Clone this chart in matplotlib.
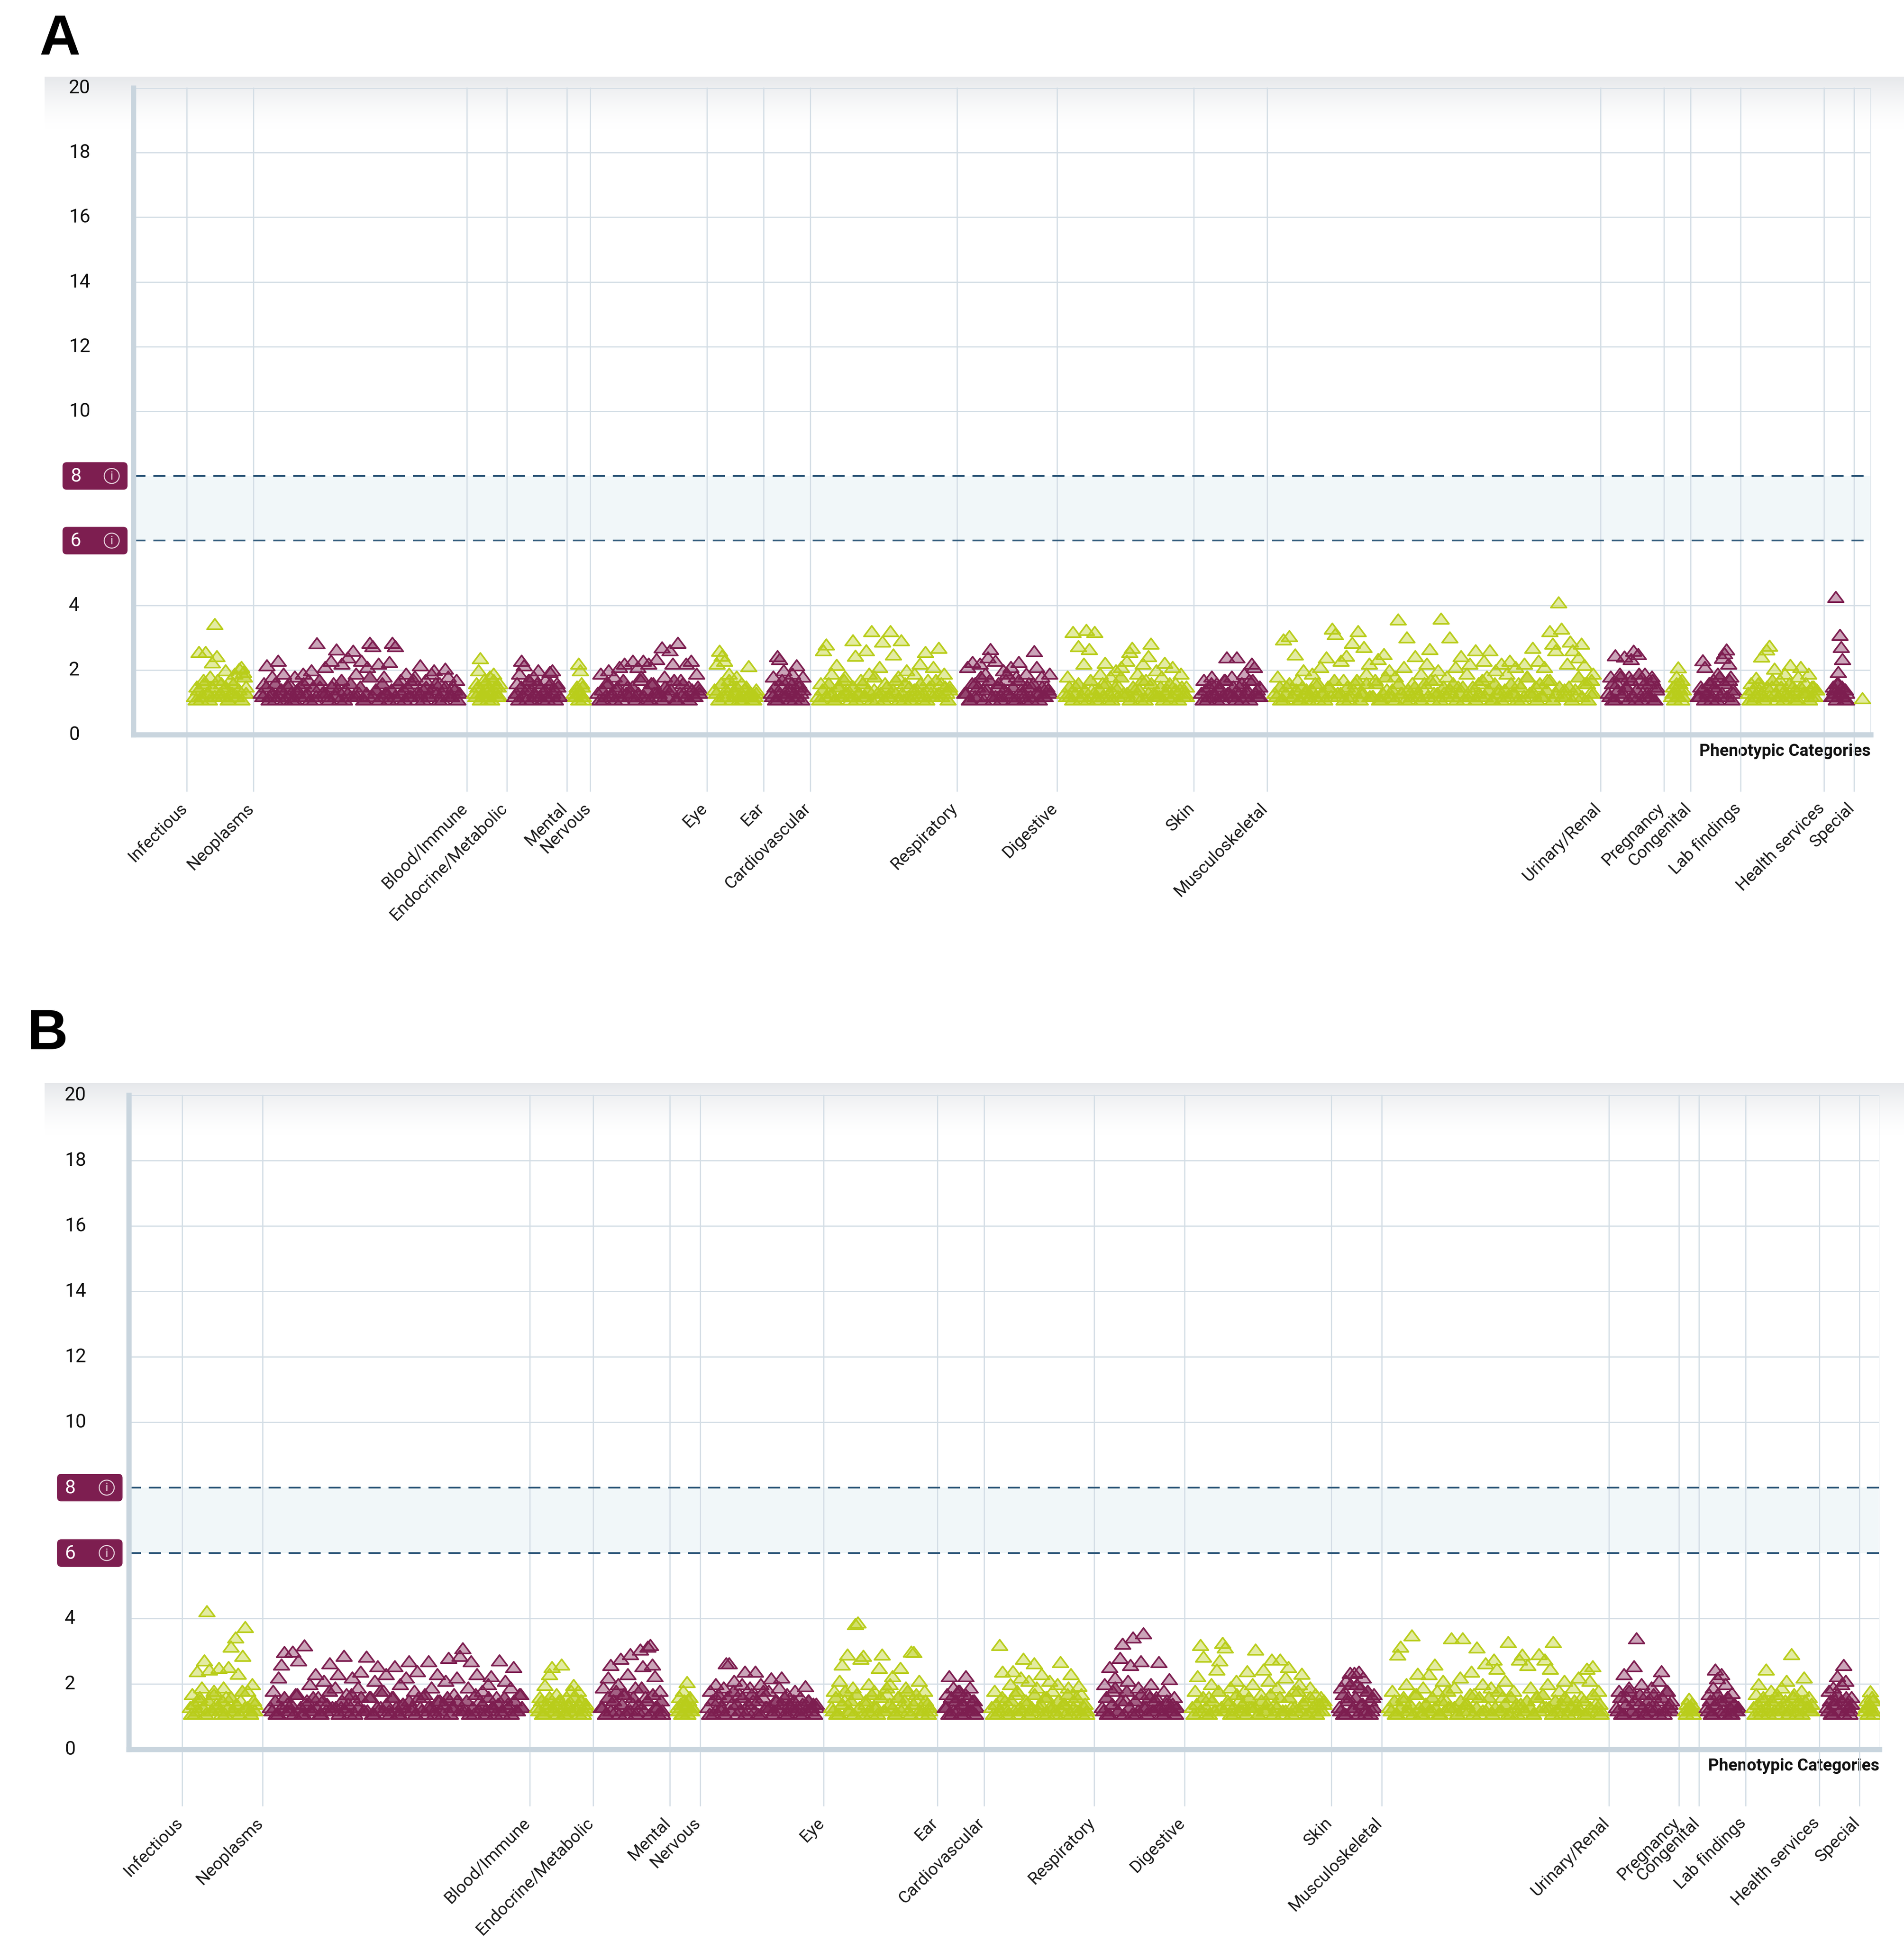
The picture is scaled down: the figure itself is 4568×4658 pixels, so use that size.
import numpy as np
import matplotlib
matplotlib.use("Agg")
import matplotlib.pyplot as plt
from matplotlib.path import Path
from matplotlib.patches import FancyBboxPatch, Circle
import matplotlib.transforms as mtransforms
from matplotlib.colors import to_rgba

plt.rcParams['font.family'] = ['Roboto', 'DejaVu Sans']

W, H, DPI = 4568, 4658, 100

# ---------------- data ----------------
categories = ["Infectious", "Neoplasms", "Blood/Immune", "Endocrine/Metabolic", "Mental",
              "Nervous", "Eye", "Ear", "Cardiovascular", "Respiratory", "Digestive", "Skin",
              "Musculoskeletal", "Urinary/Renal", "Pregnancy", "Congenital", "Lab findings",
              "Health services", "Special"]

# number of phenotypes per category (sets category widths)
sizes_A = [20, 64, 12, 18, 7, 35, 17, 14, 44, 30, 41, 22, 100, 19, 8, 15, 25, 9, 5]
sizes_B = [24, 80, 19, 23, 9, 37, 34, 14, 33, 27, 44, 15, 68, 21, 6, 14, 22, 12, 6]

y_ticks = [0, 2, 4, 10, 12, 14, 16, 18, 20]
grid_y = [2, 4, 10, 12, 14, 16, 18, 20]
thresholds = [8, 6]
x_title = "Phenotypic Categories"
panel_labels = ["A", "B"]

# -log10(p) of the more prominent results per category, panel A
a_inf = [1.2, 1.5, 2.56, 1.1, 1.7, 2.56, 1.3, 1.8, 2.24, 3.43, 2.43, 1.2, 1.6, 1.4, 2.0, 1.1,
         1.7, 1.3, 1.9, 1.2, 2.05, 2.1, 1.95, 1.5]
a_neo = [1.3, 1.6, 2.15, 1.2, 1.8, 1.1, 2.3, 1.4, 1.9, 1.2, 1.6, 1.1, 1.8, 1.3, 1.5, 1.9, 1.2,
         1.7, 2.0, 1.1, 2.84, 1.5, 1.3, 2.1, 1.2, 2.3, 1.6, 2.64, 1.1, 2.2, 1.4, 2.4, 1.2, 2.6,
         1.9, 1.3, 2.3, 1.1, 2.1, 2.85, 2.75, 1.4, 2.2, 1.2, 1.8, 1.3, 2.25, 2.85, 2.75, 1.1,
         1.7, 1.4, 1.9, 1.2, 1.6, 1.8, 1.1, 2.15, 1.4, 1.7, 1.2, 1.9, 2.0, 1.3, 1.6, 1.1, 2.05,
         1.8, 1.2, 1.5, 1.7, 1.3]
a_blo = [1.3, 1.6, 2.0, 2.37, 1.2, 1.7, 1.4, 1.1, 1.8, 1.3, 1.9, 1.5, 1.2, 1.6]
a_end = [1.2, 1.6, 1.9, 2.3, 2.15, 1.1, 1.7, 1.4, 1.8, 1.2, 2.0, 1.5, 1.3, 1.7, 1.1, 1.95, 2.0,
         1.4, 1.6, 1.2]
a_men = [1.3, 1.2, 1.5, 2.2, 2.0, 1.6, 1.1]
a_ner = [1.3, 1.9, 1.1, 1.6, 2.0, 1.2, 1.8, 1.4, 2.1, 1.1, 2.2, 1.5, 1.3, 2.3, 1.2, 2.1, 1.7,
         2.3, 1.1, 2.2, 1.6, 1.3, 2.35, 1.2, 2.7, 1.8, 1.4, 2.62, 2.2, 1.1, 2.85, 1.7, 1.3,
         2.2, 1.5, 2.3, 1.2, 1.9, 1.4]
a_eye = [1.4, 2.2, 2.6, 2.45, 2.3, 1.2, 1.9, 1.5, 1.3, 1.8, 1.1, 1.6, 1.2, 1.5, 2.13, 1.3, 1.1, 1.4]
a_ear = [1.3, 1.8, 1.1, 2.43, 2.35, 1.5, 2.0, 1.2, 1.7, 1.4, 1.9, 1.1, 2.15, 1.6, 1.3, 1.8]
a_car = [1.2, 1.6, 2.62, 2.8, 1.3, 1.9, 1.1, 2.16, 1.5, 1.2, 1.8, 1.4, 1.1, 2.92, 2.45, 1.3,
         1.7, 1.2, 2.62, 1.9, 3.21, 1.4, 1.1, 2.1, 2.89, 1.6, 1.2, 3.21, 2.49, 1.3, 1.8, 2.92,
         1.1, 2.0, 1.5, 1.2, 1.9, 1.4, 2.2, 1.1, 2.56, 1.7, 1.3, 2.1, 1.2, 2.69, 1.6, 1.9, 1.3, 1.5]
a_res = [1.3, 2.1, 1.1, 2.25, 1.6, 1.2, 2.2, 1.4, 1.9, 2.4, 2.65, 1.1, 2.3, 1.5, 1.2, 2.0, 1.7,
         1.3, 2.1, 1.1, 1.8, 2.26, 1.4, 1.2, 1.9, 1.6, 1.1, 2.59, 2.1, 1.3, 1.8, 1.2, 1.5, 1.9]
a_dig = [1.3, 1.8, 1.2, 3.18, 1.5, 2.75, 1.1, 2.2, 3.25, 2.65, 1.4, 3.18, 1.2, 1.9, 1.6, 2.23,
         1.1, 1.8, 1.3, 2.0, 1.5, 2.1, 1.2, 2.3, 2.56, 2.69, 1.4, 1.9, 1.1, 2.2, 1.7, 2.43, 2.82,
         1.3, 2.0, 1.2, 1.8, 2.23, 1.4, 1.1, 2.1, 1.6, 1.3, 1.9, 1.2, 1.5]
a_ski = [1.3, 1.7, 1.1, 1.5, 1.8, 1.2, 1.6, 1.4, 1.1, 1.7, 2.4, 1.3, 1.8, 1.2, 2.4, 1.5, 1.1,
         1.9, 1.3, 1.7, 2.2, 2.1, 1.4, 1.2]
a_mus = [1.3, 1.8, 1.1, 2.95, 1.5, 3.05, 1.2, 2.49, 1.7, 1.1,
         2.0, 1.4, 1.2, 1.9, 1.6, 1.1, 2.1, 1.3, 2.4, 1.5,
         3.28, 3.12, 1.2, 2.3, 1.7, 2.45, 1.1, 2.85, 1.6, 3.21,
         1.3, 2.72, 1.9, 2.2, 1.2, 1.7, 2.35, 1.1, 2.5, 1.4,
         2.0, 1.2, 1.8, 3.57, 1.3, 2.1, 3.02, 1.1, 1.6, 2.43,
         1.2, 1.9, 1.4, 2.2, 2.66, 1.1, 1.7, 2.0, 3.6, 1.3,
         1.8, 3.02, 1.2, 2.1, 1.5, 2.43, 1.1, 1.9, 2.2, 1.3,
         2.62, 1.6, 1.2, 2.3, 1.8, 2.62, 1.1, 2.0, 1.4, 2.2,
         1.2, 1.9, 2.3, 1.3, 2.1, 1.6, 1.1, 2.2, 1.8, 1.3,
         2.69, 1.5, 2.3, 1.2, 2.1, 1.7, 3.21, 2.82, 2.62, 4.1,
         3.28, 1.4, 2.2, 2.89, 2.62, 1.2, 2.4, 2.82, 2.16, 1.6,
         1.3, 1.9]
a_uri = [1.3, 1.8, 1.1, 2.46, 1.6, 1.9, 1.2, 2.42, 1.5, 1.8, 2.35, 2.6, 1.1, 2.5, 1.7, 1.3,
         1.9, 1.2, 1.6, 1.8, 1.1, 1.5]
a_pre = [1.2, 1.5, 1.3, 1.8, 2.09, 1.6, 1.1, 1.4]
a_con = [1.2, 1.5, 2.31, 2.1, 1.3, 1.6, 1.1, 1.7, 1.4, 1.9, 1.2, 2.39, 2.53, 2.64, 2.2, 1.8, 1.3]
a_lab = [1.3, 1.6, 1.1, 1.76, 1.4, 2.42, 1.2, 2.64, 2.76, 1.5, 2.05, 1.1, 1.7, 1.3, 1.9, 1.2,
         2.16, 1.5, 1.1, 1.8, 2.1, 1.3, 1.6, 1.9, 1.2, 1.5, 1.4]
a_hea = [1.2, 1.5, 1.3, 4.27, 1.6, 1.94, 3.09, 2.72, 2.35, 1.4, 1.1, 1.3]
a_spe = [1.13]

# the dense bulk of weaker results per category, panel A
ab_inf = [1.1, 1.4, 1.2, 1.6, 1.3, 1.1, 1.5, 1.2, 1.7, 1.3, 1.2, 1.5, 1.1, 1.3, 1.6, 1.2, 1.4,
          1.1, 1.8, 1.3]
ab_neo = [1.2, 1.5, 1.1, 1.3, 1.6, 1.2, 1.4, 1.1, 1.5, 1.3,
          1.1, 1.4, 1.2, 1.6, 1.3, 1.1, 1.5, 1.2, 1.7, 1.3,
          1.3, 1.1, 1.5, 1.2, 1.4, 1.7, 1.1, 1.3, 1.6, 1.2,
          1.2, 1.5, 1.1, 1.3, 1.8, 1.2, 1.4, 1.1, 1.6, 1.3,
          1.1, 1.4, 1.2, 1.6, 1.3, 1.1, 1.5, 1.2, 1.7, 1.3,
          1.3, 1.1, 1.5, 1.2, 1.4, 1.6, 1.1, 1.3, 1.5, 1.2,
          1.2, 1.4, 1.1, 1.3]
ab_blo = [1.2, 1.5, 1.1, 1.3, 1.6, 1.2, 1.4, 1.1, 1.7, 1.3, 1.5, 1.2]
ab_end = [1.3, 1.1, 1.5, 1.2, 1.4, 1.7, 1.1, 1.3, 1.6, 1.2, 1.1, 1.4, 1.2, 1.6, 1.3, 1.1, 1.5, 1.2]
ab_men = [1.2, 1.4, 1.1, 1.3, 1.5, 1.2]
ab_ner = [1.1, 1.4, 1.2, 1.6, 1.3, 1.1, 1.5, 1.2, 1.7, 1.3, 1.2, 1.5, 1.1, 1.3, 1.8, 1.2, 1.4,
          1.1, 1.6, 1.3, 1.3, 1.1, 1.5, 1.2, 1.4, 1.7, 1.1, 1.3, 1.6, 1.2, 1.1, 1.4, 1.2, 1.5, 1.3]
ab_eye = [1.3, 1.1, 1.6, 1.2, 1.4, 1.7, 1.1, 1.3, 1.5, 1.2, 1.1, 1.4, 1.2, 1.3, 1.1, 1.2, 1.3]
ab_ear = [1.2, 1.5, 1.1, 1.3, 1.7, 1.2, 1.4, 1.1, 1.6, 1.3, 1.2, 1.5, 1.1, 1.4]
ab_car = [1.1, 1.4, 1.2, 1.6, 1.3, 1.1, 1.5, 1.2, 1.7, 1.3, 1.2, 1.5, 1.1, 1.3, 1.6, 1.2, 1.4,
          1.1, 1.8, 1.3, 1.3, 1.1, 1.5, 1.2, 1.4, 1.7, 1.1, 1.3, 1.6, 1.2, 1.1, 1.4, 1.2, 1.6,
          1.3, 1.1, 1.5, 1.2, 1.7, 1.3, 1.2, 1.5, 1.1, 1.4]
ab_res = [1.3, 1.1, 1.6, 1.2, 1.5, 1.8, 1.1, 1.4, 1.7, 1.2, 1.2, 1.6, 1.1, 1.4, 1.9, 1.2, 1.5,
          1.1, 1.7, 1.3, 1.1, 1.5, 1.2, 1.6, 1.3, 1.1, 1.5, 1.2, 1.4, 1.3]
ab_dig = [1.2, 1.5, 1.1, 1.3, 1.6, 1.2, 1.4, 1.1, 1.7, 1.3, 1.1, 1.4, 1.2, 1.6, 1.3, 1.1, 1.5,
          1.2, 1.8, 1.3, 1.3, 1.1, 1.5, 1.2, 1.4, 1.7, 1.1, 1.3, 1.6, 1.2, 1.2, 1.5, 1.1, 1.3,
          1.6, 1.2, 1.4, 1.1, 1.5, 1.3, 1.2]
ab_ski = [1.1, 1.4, 1.2, 1.6, 1.3, 1.1, 1.5, 1.2, 1.7, 1.3, 1.2, 1.5, 1.1, 1.3, 1.6, 1.2, 1.4,
          1.1, 1.7, 1.3, 1.2, 1.5]
ab_mus = [1.2, 1.5, 1.1, 1.3, 1.6, 1.2, 1.4, 1.1, 1.5, 1.3,
          1.1, 1.4, 1.2, 1.6, 1.3, 1.1, 1.5, 1.2, 1.7, 1.3,
          1.3, 1.1, 1.5, 1.2, 1.4, 1.7, 1.1, 1.3, 1.6, 1.2,
          1.2, 1.6, 1.1, 1.3, 1.8, 1.2, 1.4, 1.1, 1.6, 1.3,
          1.1, 1.4, 1.2, 1.5, 1.3, 1.1, 1.6, 1.2, 1.7, 1.3,
          1.3, 1.1, 1.5, 1.2, 1.4, 1.6, 1.1, 1.3, 1.5, 1.2,
          1.2, 1.5, 1.1, 1.3, 1.7, 1.2, 1.4, 1.1, 1.6, 1.3,
          1.1, 1.4, 1.2, 1.6, 1.3, 1.1, 1.5, 1.2, 1.8, 1.3,
          1.3, 1.1, 1.6, 1.2, 1.4, 1.7, 1.1, 1.3, 1.5, 1.2,
          1.2, 1.5, 1.1, 1.4, 1.8, 1.2, 1.6, 1.1, 1.7, 1.3]
ab_uri = [1.2, 1.6, 1.1, 1.4, 1.8, 1.3, 1.5, 1.1, 1.7, 1.2, 1.4, 1.9, 1.1, 1.6, 1.3, 1.2, 1.7,
          1.1, 1.4]
ab_pre = [1.3, 1.1, 1.6, 1.2, 1.4, 1.7, 1.2]
ab_con = [1.2, 1.4, 1.1, 1.3, 1.6, 1.2, 1.5, 1.1, 1.8, 1.3, 1.6, 1.2, 1.7, 1.1, 1.4]
ab_lab = [1.1, 1.4, 1.2, 1.6, 1.3, 1.1, 1.5, 1.2, 1.7, 1.3, 1.2, 1.5, 1.1, 1.3, 1.6, 1.2, 1.4,
          1.1, 1.5, 1.3, 1.3, 1.1, 1.5, 1.2, 1.4]
ab_hea = [1.2, 1.4, 1.1, 1.6, 1.3, 1.5, 1.2, 1.4, 1.1]
ab_spe = []

# -log10(p) of the more prominent results per category, panel B
b_inf = [1.3, 1.7, 1.1, 2.4, 1.5, 1.9, 2.72, 4.23, 2.44, 1.2, 1.8, 1.4, 2.5, 1.1, 1.9, 1.6,
         2.52, 3.15, 1.2, 3.43, 2.32, 1.5, 2.86, 3.74, 1.8, 1.2, 2.0, 1.4]
b_neo = [1.3, 1.8, 1.1, 2.2, 2.6, 2.98, 1.4, 1.2, 3.0, 1.7,
         2.72, 1.1, 3.18, 1.5, 2.0, 1.2, 2.3, 1.6, 1.1, 2.1,
         1.4, 2.64, 1.2, 1.9, 2.3, 1.3, 2.86, 1.7, 1.1, 2.2,
         1.5, 1.9, 2.38, 1.2, 2.84, 1.6, 1.1, 2.1, 2.55, 1.3,
         1.8, 2.3, 1.2, 1.6, 2.55, 1.1, 2.0, 1.4, 2.2, 2.7,
         1.2, 1.8, 2.4, 1.3, 1.6, 1.1, 2.7, 1.9, 1.2, 2.3,
         1.5, 1.1, 2.1, 2.8, 1.3, 1.7, 2.2, 2.86, 3.09, 1.2,
         1.9, 2.7, 1.1, 2.3, 1.5, 1.8, 1.2, 2.0, 2.24, 1.3,
         1.6, 2.72, 1.1, 2.1, 1.4, 1.9, 2.52, 1.2, 1.7, 1.3]
b_blo = [1.3, 1.6, 1.1, 1.98, 1.4, 2.3, 2.52, 1.2, 1.7, 1.5, 2.6, 1.1, 1.6, 1.3, 1.8, 1.98,
         1.2, 1.8, 1.5, 1.1, 1.4]
b_end = [1.3, 1.9, 1.1, 2.2, 2.58, 1.5, 1.2, 2.0, 2.78, 1.7, 1.1, 2.3, 2.92, 1.4, 1.9, 1.2,
         3.06, 2.55, 1.6, 3.15, 3.2, 2.6, 2.24, 1.3, 1.8, 1.1]
b_men = [1.3, 1.6, 1.1, 1.8, 1.4, 2.07, 1.5, 1.2, 1.3]
b_ner = [1.3, 1.8, 1.1, 2.0, 1.5, 1.2, 1.9, 2.64, 2.64, 1.4, 2.1, 1.1, 1.7, 2.0, 2.38, 1.2,
         1.9, 1.5, 2.38, 1.1, 2.0, 1.6, 1.3, 1.8, 2.18, 1.2, 1.5, 1.9, 2.2, 1.1, 1.7, 1.4,
         1.2, 1.8, 1.3, 1.6, 1.1, 1.93, 1.5, 1.2, 1.4, 1.3]
b_eye = [1.3, 1.8, 1.1, 2.1, 2.6, 1.5, 2.9, 1.2, 1.9, 3.83, 3.89, 2.78, 2.86, 1.4, 2.0, 1.1,
         1.8, 1.3, 2.5, 2.9, 1.2, 1.7, 2.0, 2.24, 1.1, 1.6, 2.5, 1.3, 1.9, 1.2, 3.0, 2.98,
         1.5, 2.1, 1.1, 1.8, 1.4, 1.2]
b_ear = [1.3, 1.7, 2.24, 1.1, 1.9, 1.5, 1.2, 1.8, 1.4, 1.1, 2.24, 1.6, 1.9, 1.2, 1.5, 1.3]
b_car = [1.3, 1.8, 1.1, 3.2, 2.38, 1.5, 1.2, 2.0, 2.4, 1.7, 1.1, 2.2, 2.78, 1.4, 2.1, 1.2,
         2.64, 1.9, 1.3, 2.3, 1.6, 1.1, 2.1, 1.8, 1.2, 2.0, 2.67, 1.4, 1.1, 1.9, 2.3, 1.5,
         1.2, 1.95, 1.7, 1.3, 1.1]
b_res = [1.3, 2.0, 1.1, 2.52, 1.8, 2.2, 1.2, 2.8, 3.23, 1.5, 2.1, 2.58, 3.43, 1.1, 1.9, 2.7,
         3.55, 1.3, 1.7, 2.0, 1.2, 1.6, 2.67, 1.1, 1.8, 1.4, 2.15, 1.2, 1.6, 1.3]
b_dig = [1.3, 1.8, 2.24, 3.2, 2.84, 1.1, 1.6, 2.0, 1.2, 2.44,
         2.72, 3.26, 3.12, 1.4, 1.9, 1.1, 2.1, 1.5, 1.2, 1.8,
         2.4, 1.3, 2.0, 3.06, 1.1, 1.7, 2.44, 1.2, 2.1, 2.75,
         1.4, 1.9, 2.75, 1.1, 2.2, 2.52, 1.3, 1.8, 1.2, 2.0,
         2.32, 1.5, 1.1, 1.9, 1.3, 1.7, 1.2, 1.6, 1.4]
b_ski = [1.3, 1.9, 1.1, 2.1, 1.6, 2.35, 1.2, 2.35, 2.0, 2.38, 1.4, 2.2, 1.1, 1.8, 1.5, 1.2, 1.7]
b_mus = [1.3, 1.8, 1.1, 2.9, 3.15, 1.5, 2.0, 1.2, 3.49, 1.7,
         2.32, 1.1, 1.9, 1.4, 2.3, 1.2, 2.6, 1.8, 1.1, 2.1,
         1.5, 1.3, 3.4, 1.9, 1.1, 2.2, 3.4, 1.4, 1.2, 2.38,
         1.7, 3.12, 1.1, 2.0, 2.64, 1.3, 1.9, 2.75, 2.47, 1.2,
         1.6, 2.1, 3.29, 1.1, 1.8, 1.4, 2.75, 2.9, 1.2, 2.58,
         1.9, 1.1, 1.6, 2.92, 1.3, 2.75, 2.0, 2.47, 3.29, 1.2,
         1.8, 1.1, 2.1, 1.5, 1.3, 1.9, 1.2, 2.2, 1.6, 1.1,
         2.47, 2.1, 2.55, 1.4, 1.8, 1.2]
b_uri = [1.3, 1.8, 1.1, 2.3, 1.6, 1.9, 1.2, 2.55, 3.4, 1.4, 2.0, 1.1, 1.7, 1.3, 1.9, 1.2, 1.5,
         2.1, 2.4, 1.1, 1.8, 1.3, 1.5]
b_pre = [1.2, 1.4, 1.56, 1.3, 1.1]
b_con = [1.3, 1.7, 1.1, 1.9, 2.44, 2.18, 1.5, 2.3, 1.2, 2.0, 1.6, 1.1, 1.73, 1.4, 1.2, 1.3]
b_lab = [1.3, 1.7, 2.0, 1.1, 1.5, 2.44, 1.2, 1.8, 1.4, 1.1, 1.6, 1.9, 1.3, 2.1, 1.2, 2.92,
         1.7, 1.1, 1.5, 1.8, 2.2, 1.3, 1.6, 1.2]
b_hea = [1.3, 1.8, 1.1, 1.9, 1.5, 2.24, 1.2, 2.0, 2.58, 2.1, 1.4, 1.1, 1.6]
b_spe = [1.2, 1.5, 1.3, 1.78, 1.6, 1.1]

# the dense bulk of weaker results per category, panel B
bb_inf = [1.1, 1.4, 1.2, 1.6, 1.3, 1.1, 1.5, 1.2, 1.7, 1.3, 1.2, 1.5, 1.1, 1.3, 1.6, 1.2, 1.4,
          1.1, 1.8, 1.3, 1.3, 1.1, 1.5, 1.2]
bb_neo = [1.2, 1.5, 1.1, 1.3, 1.6, 1.2, 1.4, 1.1, 1.7, 1.3,
          1.1, 1.4, 1.2, 1.6, 1.3, 1.1, 1.5, 1.2, 1.8, 1.3,
          1.3, 1.1, 1.5, 1.2, 1.4, 1.7, 1.1, 1.3, 1.6, 1.2,
          1.2, 1.6, 1.1, 1.3, 1.8, 1.2, 1.4, 1.1, 1.6, 1.3,
          1.1, 1.4, 1.2, 1.5, 1.3, 1.1, 1.6, 1.2, 1.7, 1.3,
          1.3, 1.1, 1.5, 1.2, 1.4, 1.6, 1.1, 1.3, 1.5, 1.2,
          1.2, 1.5, 1.1, 1.3, 1.7, 1.2, 1.4, 1.1, 1.6, 1.3,
          1.1, 1.4, 1.2, 1.6, 1.3, 1.1, 1.5, 1.2, 1.7, 1.3]
bb_blo = [1.2, 1.5, 1.1, 1.3, 1.6, 1.2, 1.4, 1.1, 1.5, 1.3, 1.1, 1.4, 1.2, 1.6, 1.3, 1.1, 1.5,
          1.2, 1.3]
bb_end = [1.3, 1.1, 1.6, 1.2, 1.5, 1.8, 1.1, 1.4, 1.7, 1.2, 1.2, 1.6, 1.1, 1.4, 1.9, 1.2, 1.5,
          1.1, 1.7, 1.3, 1.1, 1.5, 1.2]
bb_men = [1.2, 1.4, 1.1, 1.5, 1.3, 1.1, 1.6, 1.2, 1.3]
bb_ner = [1.1, 1.5, 1.2, 1.7, 1.3, 1.1, 1.6, 1.2, 1.8, 1.4, 1.2, 1.6, 1.1, 1.4, 1.7, 1.2, 1.5,
          1.1, 1.8, 1.3, 1.3, 1.1, 1.5, 1.2, 1.4, 1.6, 1.1, 1.3, 1.5, 1.2, 1.1, 1.4, 1.2, 1.5,
          1.3, 1.1, 1.4]
bb_eye = [1.2, 1.6, 1.1, 1.4, 1.8, 1.2, 1.5, 1.1, 1.7, 1.3, 1.1, 1.5, 1.2, 1.7, 1.3, 1.1, 1.6,
          1.2, 1.9, 1.4, 1.3, 1.1, 1.6, 1.2, 1.5, 1.8, 1.1, 1.4, 1.7, 1.2, 1.2, 1.5, 1.1, 1.3]
bb_ear = [1.3, 1.1, 1.6, 1.2, 1.5, 1.8, 1.1, 1.4, 1.7, 1.2, 1.2, 1.5, 1.1, 1.3]
bb_car = [1.1, 1.4, 1.2, 1.6, 1.3, 1.1, 1.5, 1.2, 1.8, 1.3, 1.2, 1.5, 1.1, 1.3, 1.7, 1.2, 1.4,
          1.1, 1.6, 1.3, 1.3, 1.1, 1.5, 1.2, 1.4, 1.7, 1.1, 1.3, 1.6, 1.2, 1.1, 1.4, 1.2]
bb_res = [1.2, 1.6, 1.1, 1.4, 1.9, 1.2, 1.5, 1.1, 1.8, 1.3, 1.1, 1.5, 1.2, 1.7, 1.3, 1.1, 1.6,
          1.2, 1.5, 1.3, 1.3, 1.1, 1.5, 1.2, 1.4, 1.1, 1.3]
bb_dig = [1.1, 1.4, 1.2, 1.6, 1.3, 1.1, 1.5, 1.2, 1.8, 1.3, 1.2, 1.5, 1.1, 1.3, 1.7, 1.2, 1.4,
          1.1, 1.6, 1.3, 1.3, 1.1, 1.5, 1.2, 1.4, 1.7, 1.1, 1.3, 1.6, 1.2, 1.2, 1.6, 1.1, 1.3,
          1.8, 1.2, 1.4, 1.1, 1.6, 1.3, 1.1, 1.4, 1.2, 1.5]
bb_ski = [1.2, 1.7, 1.1, 1.5, 2.0, 1.3, 1.6, 1.1, 1.9, 1.4, 1.2, 1.8, 1.1, 1.6, 1.3]
bb_mus = [1.2, 1.5, 1.1, 1.3, 1.6, 1.2, 1.4, 1.1, 1.7, 1.3, 1.1, 1.4, 1.2, 1.6, 1.3, 1.1, 1.5,
          1.2, 1.8, 1.3, 1.3, 1.1, 1.5, 1.2, 1.4, 1.7, 1.1, 1.3, 1.6, 1.2, 1.2, 1.6, 1.1, 1.3,
          1.8, 1.2, 1.4, 1.1, 1.6, 1.3, 1.1, 1.4, 1.2, 1.5, 1.3, 1.1, 1.6, 1.2, 1.7, 1.3, 1.3,
          1.1, 1.5, 1.2, 1.4, 1.6, 1.1, 1.3, 1.5, 1.2, 1.2, 1.5, 1.1, 1.3, 1.7, 1.2, 1.4, 1.1]
bb_uri = [1.2, 1.6, 1.1, 1.4, 1.8, 1.2, 1.5, 1.1, 1.7, 1.3, 1.1, 1.5, 1.2, 1.7, 1.3, 1.1, 1.6,
          1.2, 1.8, 1.4, 1.2]
bb_pre = [1.1, 1.3, 1.2, 1.4, 1.2]
bb_con = [1.2, 1.5, 1.1, 1.4, 1.7, 1.2, 1.5, 1.1, 1.6, 1.3, 1.1, 1.4, 1.2, 1.3]
bb_lab = [1.1, 1.4, 1.2, 1.6, 1.3, 1.1, 1.5, 1.2, 1.7, 1.3, 1.2, 1.5, 1.1, 1.3, 1.6, 1.2, 1.4,
          1.1, 1.5, 1.3, 1.2, 1.4]
bb_hea = [1.2, 1.5, 1.1, 1.4, 1.7, 1.2, 1.5, 1.1, 1.6, 1.3, 1.2, 1.4]
bb_spe = [1.3, 1.1, 1.4, 1.2, 1.5, 1.2]

values_A = [a_inf, a_neo, a_blo, a_end, a_men, a_ner, a_eye, a_ear, a_car, a_res, a_dig,
            a_ski, a_mus, a_uri, a_pre, a_con, a_lab, a_hea, a_spe]
bulk_A = [ab_inf, ab_neo, ab_blo, ab_end, ab_men, ab_ner, ab_eye, ab_ear, ab_car, ab_res,
          ab_dig, ab_ski, ab_mus, ab_uri, ab_pre, ab_con, ab_lab, ab_hea, ab_spe]
values_B = [b_inf, b_neo, b_blo, b_end, b_men, b_ner, b_eye, b_ear, b_car, b_res, b_dig,
            b_ski, b_mus, b_uri, b_pre, b_con, b_lab, b_hea, b_spe]
bulk_B = [bb_inf, bb_neo, bb_blo, bb_end, bb_men, bb_ner, bb_eye, bb_ear, bb_car, bb_res,
          bb_dig, bb_ski, bb_mus, bb_uri, bb_pre, bb_con, bb_lab, bb_hea, bb_spe]

# ---------------- style ----------------
YEL = '#b9cd1b'
MAR = '#7d1e50'
GRID = '#d3dde5'
SPINE = '#c9d5de'
DASH = '#2b5577'
BAND = '#f1f7f9'
TRI = Path([(-1, -0.67), (1, -0.67), (0, 0.67), (-1, -0.67)],
           [Path.MOVETO, Path.LINETO, Path.LINETO, Path.CLOSEPOLY])
MS = 730
MLW = 2.8
FILL_ALPHA = [0.7, 0.4]   # bulk layer, prominent layer

fig = plt.figure(figsize=(W / DPI, H / DPI), dpi=DPI)
fig.patch.set_facecolor('white')

deco = fig.add_axes([0, 0, 1, 1], zorder=0)
deco.set_xlim(0, W)
deco.set_ylim(H, 0)
deco.axis('off')

panels = [
    dict(left=320, right=4488, top=211, bottom=1763, lab_xy=(144, 96), tick_x=165,
         badge=(150, 306), ext=135, grad_top=184),
    dict(left=309, right=4509, top=2628, bottom=4198, lab_xy=(114, 2483), tick_x=155,
         badge=(137, 294), ext=135, grad_top=2599),
]


def header_gradient(y0, height):
    g = np.zeros((64, 2, 4))
    g[..., 0] = 0.905
    g[..., 1] = 0.91
    g[..., 2] = 0.925
    a = np.linspace(1, 0, 64) ** 1.6
    g[..., 3] = a[:, None]
    deco.imshow(g, extent=[107, W, y0 + height, y0], aspect='auto', zorder=0,
                interpolation='bilinear')


def draw_panel(spec, label, sizes, values, bulk):
    header_gradient(spec['grad_top'], 130)
    L, R, T, B = spec['left'], spec['right'], spec['top'], spec['bottom']
    ax = fig.add_axes([L / W, 1 - B / H, (R - L) / W, (B - T) / H], zorder=2)
    ax.set_facecolor('none')
    total = float(np.sum(sizes))
    starts = np.concatenate([[0], np.cumsum(sizes)[:-1]])
    ax.set_xlim(-16, total)
    ax.set_ylim(0, 20)
    ax.set_xticks([])
    ax.set_yticks([])
    for s in ['top', 'right']:
        ax.spines[s].set_visible(False)
    for s in ['left', 'bottom']:
        ax.spines[s].set_color(SPINE)
        ax.spines[s].set_linewidth(9)
        ax.spines[s].set_capstyle('projecting')

    ext_frac = spec['ext'] / (B - T)
    for v in grid_y:
        ax.axhline(v, color=GRID, lw=2, zorder=1)
    ax.axhspan(min(thresholds), max(thresholds), color=BAND, lw=0, zorder=0.5)
    for t in thresholds:
        ax.axhline(t, color=DASH, lw=2.9, ls=(0, (7.2, 4.7)), zorder=1.5)
    for s0 in starts:
        ax.axvline(s0, ymin=-ext_frac, ymax=1, color=GRID, lw=2, clip_on=False, zorder=1)
    ax.axvline(total, color=GRID, lw=2, zorder=1)

    # points: dense bulk first, prominent results on top
    for layer, data in enumerate([bulk, values]):
        for k, (s0, sz, vals) in enumerate(zip(starts, sizes, data)):
            if len(vals) == 0:
                continue
            c = YEL if k % 2 == 0 else MAR
            n = len(vals)
            pad = min(2.3, sz * 0.3)
            if n == 1:
                xs = np.array([s0 + sz / 2.0])
            else:
                step = (sz - 2 * pad) / (n - 1)
                xs = s0 + pad + np.arange(n) * step
                if layer == 0:
                    xs = np.minimum(xs + 0.5 * step, s0 + sz - pad)
            ax.scatter(xs, vals, marker=TRI, s=MS, facecolors=[to_rgba(c, FILL_ALPHA[layer])],
                       edgecolors=[c], linewidths=MLW, zorder=3 + layer)

    # category labels
    tr_lab = (mtransforms.blended_transform_factory(ax.transData, deco.transData)
              + mtransforms.ScaledTranslation(-19 / DPI, 0, fig.dpi_scale_trans))
    for s0, name in zip(starts, categories):
        ax.text(s0, B + spec['ext'] + 22, name, transform=tr_lab, rotation=45,
                rotation_mode='anchor', ha='right', va='top', fontsize=29.5,
                color='#1a1a1a', clip_on=False)

    # y tick labels
    tr_tick = mtransforms.blended_transform_factory(deco.transData, ax.transData)
    for v in y_ticks:
        ax.text(spec['tick_x'], v, str(v), transform=tr_tick, ha='left', va='center',
                fontsize=33, color='#111111', clip_on=False)

    # threshold badges
    bx0, bx1 = spec['badge']
    for t in thresholds:
        ypx = H - ax.transData.transform((0, t))[1]
        deco.add_patch(FancyBboxPatch((bx0, ypx - 33), bx1 - bx0, 66,
                                      boxstyle="round,pad=0,rounding_size=10",
                                      fc=MAR, ec='none', zorder=3))
        deco.text(bx0 + 19, ypx + 1, str(t), ha='left', va='center', fontsize=33,
                  color='white', zorder=4)
        cx = bx1 - 38
        deco.add_patch(Circle((cx, ypx), 18, fill=False, ec='#e7d2dd', lw=1.8, zorder=4))
        deco.text(cx, ypx + 1, 'i', ha='center', va='center', fontsize=20,
                  color='#e7d2dd', zorder=4)

    # axis title
    deco.text(R, B + 40, x_title, ha='right', va='center', fontsize=29,
              fontweight='bold', color='#111111', zorder=4)
    # panel label
    deco.text(spec['lab_xy'][0], spec['lab_xy'][1], label, ha='center', va='center',
              fontsize=98, fontweight='bold', family='Liberation Sans', color='black',
              zorder=4)
    return ax


draw_panel(panels[0], panel_labels[0], sizes_A, values_A, bulk_A)
draw_panel(panels[1], panel_labels[1], sizes_B, values_B, bulk_B)

fig.savefig('out.png', dpi=DPI, facecolor='white')
